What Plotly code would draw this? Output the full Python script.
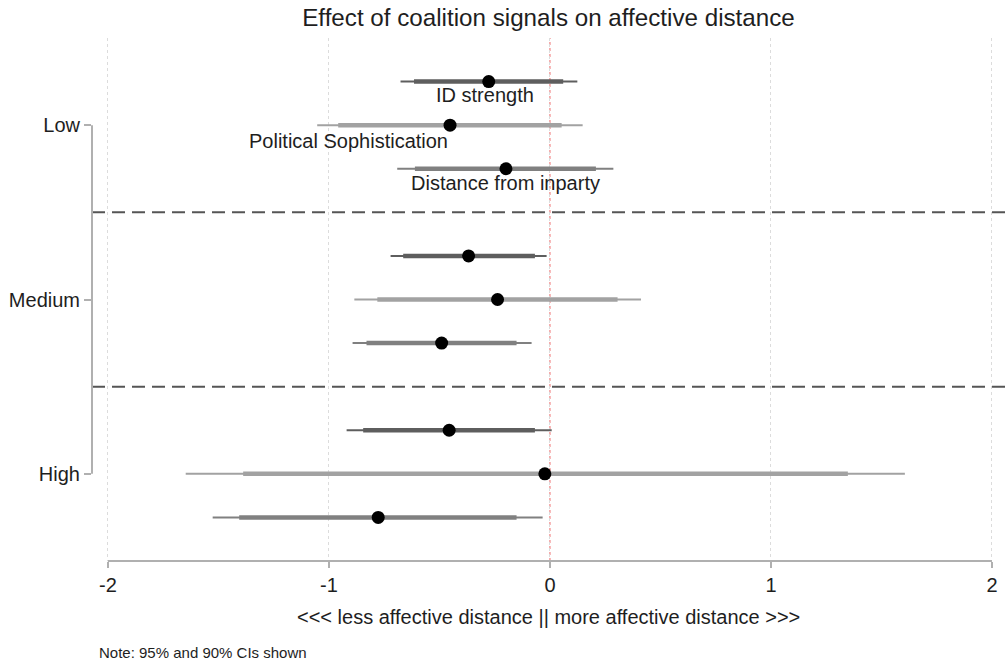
import plotly.graph_objects as go

# Moderator levels (rows) and the three moderators (series)
levels = ["Low", "Medium", "High"]
series = ["ID strength", "Political Sophistication", "Distance from inparty"]

# Point estimates and confidence bounds, one list per series, ordered Low/Medium/High
est = {
    "ID strength": [-0.277, -0.368, -0.456],
    "Political Sophistication": [-0.452, -0.237, -0.023],
    "Distance from inparty": [-0.199, -0.490, -0.777],
}
lo90 = {
    "ID strength": [-0.615, -0.664, -0.845],
    "Political Sophistication": [-0.958, -0.781, -1.388],
    "Distance from inparty": [-0.611, -0.830, -1.406],
}
hi90 = {
    "ID strength": [0.060, -0.068, -0.068],
    "Political Sophistication": [0.053, 0.306, 1.348],
    "Distance from inparty": [0.208, -0.151, -0.151],
}
lo95 = {
    "ID strength": [-0.676, -0.721, -0.920],
    "Political Sophistication": [-1.053, -0.885, -1.648],
    "Distance from inparty": [-0.691, -0.893, -1.526],
}
hi95 = {
    "ID strength": [0.124, -0.015, 0.008],
    "Political Sophistication": [0.148, 0.412, 1.606],
    "Distance from inparty": [0.287, -0.083, -0.033],
}

x_ticks = [-2, -1, 0, 1, 2]

# Styling per series
offsets = {"ID strength": -0.25, "Political Sophistication": 0.0, "Distance from inparty": 0.25}
colors = {"ID strength": "#5e5e5e", "Political Sophistication": "#a2a2a2", "Distance from inparty": "#808080"}

FONT = "Liberation Sans, Arial, sans-serif"
TXT = "#1e1e1e"

fig = go.Figure()

for s in series:
    ys = [i + 1 + offsets[s] for i in range(len(levels))]
    # 95% interval (thin)
    xx, yy = [], []
    for a, b, y in zip(lo95[s], hi95[s], ys):
        xx += [a, b, None]
        yy += [y, y, None]
    fig.add_trace(go.Scatter(x=xx, y=yy, mode="lines",
                             line=dict(color=colors[s], width=2), showlegend=False, hoverinfo="skip"))
    # 90% interval (thick)
    xx, yy = [], []
    for a, b, y in zip(lo90[s], hi90[s], ys):
        xx += [a, b, None]
        yy += [y, y, None]
    fig.add_trace(go.Scatter(x=xx, y=yy, mode="lines",
                             line=dict(color=colors[s], width=4.5), showlegend=False, hoverinfo="skip"))

for s in series:
    ys = [i + 1 + offsets[s] for i in range(len(levels))]
    fig.add_trace(go.Scatter(x=est[s], y=ys, mode="markers",
                             marker=dict(color="black", size=13), name=s, showlegend=False))

# Series labels under the Low-level estimates
label_anchor = {"ID strength": "center", "Political Sophistication": "right", "Distance from inparty": "center"}
label_xshift = {"ID strength": -4, "Political Sophistication": 0, "Distance from inparty": 0}
label_yshift = {"ID strength": 0, "Political Sophistication": -3, "Distance from inparty": -1}
for s in series:
    fig.add_annotation(x=est[s][0], y=1 + offsets[s], text=s, showarrow=False,
                       xanchor=label_anchor[s], yanchor="top",
                       xshift=label_xshift[s], yshift=label_yshift[s],
                       font=dict(family=FONT, size=20, color=TXT))

shapes = []
# dashed separators between levels
for yv in [1.5, 2.5]:
    shapes.append(dict(type="line", xref="paper", x0=0, x1=1, yref="y", y0=yv, y1=yv,
                       line=dict(color="#555555", width=2, dash="13px,7px"), layer="below"))
# reference line at zero
shapes.append(dict(type="line", xref="x", x0=0, x1=0, yref="paper", y0=0, y1=1,
                   line=dict(color="#f08080", width=1.2, dash="dot"), layer="below"))
# axis lines spanning only the tick range
shapes.append(dict(type="line", xref="x", x0=-2, x1=2, yref="paper", y0=0, y1=0,
                   line=dict(color="#b0b0b0", width=2)))
shapes.append(dict(type="line", xref="paper", x0=0, x1=0, yref="y", y0=1, y1=3,
                   line=dict(color="#b0b0b0", width=2)))

fig.update_layout(
    width=1005, height=662,
    margin=dict(l=92, r=0, t=38, b=101),
    plot_bgcolor="white", paper_bgcolor="white",
    font=dict(family=FONT, size=20, color=TXT),
    title=dict(text="Effect of coalition signals on affective distance",
               x=0.5, xref="paper", xanchor="center",
               y=1 - 18 / 662, yref="container", yanchor="middle",
               font=dict(family=FONT, size=24.2, color=TXT)),
    shapes=shapes,
    xaxis=dict(range=[-2.072, 2.059], tickvals=x_ticks, ticktext=[str(t) for t in x_ticks],
               showgrid=True, gridcolor="#dcdcdc", griddash="dot", gridwidth=1,
               zeroline=False, showline=False,
               ticks="outside", ticklen=6, tickwidth=2, tickcolor="#b0b0b0",
               tickfont=dict(family=FONT, size=20, color=TXT)),
    yaxis=dict(range=[3.5, 0.5], tickvals=[1, 2, 3], ticktext=levels,
               showgrid=False, zeroline=False, showline=False,
               ticks="outside", ticklen=7, tickwidth=2, tickcolor="#b0b0b0",
               tickfont=dict(family=FONT, size=20, color=TXT)),
)

fig.add_annotation(xref="paper", yref="paper", x=0.5, y=(561 - 617) / 523,
                   text="<<< less affective distance || more affective distance >>>",
                   showarrow=False, xanchor="center", yanchor="middle",
                   font=dict(family=FONT, size=20, color=TXT))
fig.add_annotation(xref="paper", yref="paper", x=0, xshift=5, y=(561 - 652) / 523,
                   text="Note: 95% and 90% CIs shown",
                   showarrow=False, xanchor="left", yanchor="middle",
                   font=dict(family=FONT, size=15, color=TXT))

fig.write_html("out.html")
